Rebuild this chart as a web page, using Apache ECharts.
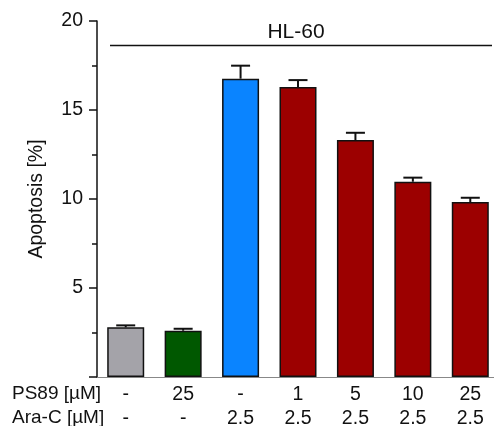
<!DOCTYPE html>
<html>
<head>
<meta charset="utf-8">
<script src="https://cdn.jsdelivr.net/npm/echarts@6/dist/echarts.min.js"></script>
<style>
  html, body { margin: 0; padding: 0; background: #fff; }
  #chart { width: 494px; height: 426px; }
</style>
</head>
<body>
<div id="chart"></div>
<script>
const ps89 = ['-', '25', '-', '1', '5', '10', '25'];
const araC = ['-', '-', '2.5', '2.5', '2.5', '2.5', '2.5'];
const apoptosis = [2.79, 2.6, 16.76, 16.29, 13.31, 10.97, 9.83];
const errUpper = [2.9, 2.71, 17.49, 16.68, 13.72, 11.2, 10.07];
const barColors = ['#a4a3a9', '#005800', '#0a84ff', '#9c0000', '#9c0000', '#9c0000', '#9c0000'];
const yTicks = [5, 10, 15, 20];

const FONT = 'Liberation Sans, Arial, Helvetica, sans-serif';
const cats = ps89.map((p, i) => p + '\n' + araC[i]);

const chart = echarts.init(document.getElementById('chart'));
chart.setOption({
  animation: false,
  textStyle: { fontFamily: FONT },
  grid: { left: 97, top: 21, width: 402, height: 356, outerBoundsMode: 'none', containLabel: false },
  xAxis: {
    type: 'category',
    data: cats,
    axisTick: { show: false },
    axisLine: { lineStyle: { color: '#888', width: 1 } },
    axisLabel: { color: '#111', fontSize: 19.5, lineHeight: 24, margin: 6, interval: 0 }
  },
  yAxis: {
    type: 'value',
    min: 0, max: 20, interval: 5,
    name: 'Apoptosis [%]',
    nameLocation: 'middle',
    nameGap: 50,
    nameTextStyle: { color: '#111', fontSize: 19.5 },
    axisLine: { show: true, lineStyle: { color: '#111', width: 1.5 } },
    axisTick: { show: true, length: 8, lineStyle: { color: '#111', width: 1.5 } },
    minorTick: { show: true, splitNumber: 2, length: 5, lineStyle: { color: '#111', width: 1.5 } },
    splitLine: { show: false },
    axisLabel: {
      color: '#111', fontSize: 19.5, margin: 14,
      formatter: v => yTicks.includes(v) ? String(v) : ''
    }
  },
  graphic: [
    { type: 'text', x: 12, y: 394, style: { text: 'PS89 [µM]', fontSize: 19, fontFamily: FONT, fill: '#111', textVerticalAlign: 'middle' } },
    { type: 'text', x: 12, y: 418, style: { text: 'Ara-C [µM]', fontSize: 19, fontFamily: FONT, fill: '#111', textVerticalAlign: 'middle' } },
    { type: 'text', x: 296, y: 32, style: { text: 'HL-60', fontSize: 21, fontFamily: FONT, fill: '#111', textAlign: 'center', textVerticalAlign: 'middle' } },
    { type: 'line', shape: { x1: 110, y1: 45.5, x2: 492, y2: 45.5 }, style: { stroke: '#111', lineWidth: 1.5 } }
  ],
  series: [
    {
      type: 'bar',
      barWidth: 37,
      data: apoptosis.map((v, i) => ({
        value: v,
        itemStyle: { color: barColors[i], borderColor: '#111', borderWidth: 1.5 }
      }))
    },
    {
      type: 'custom',
      z: 5,
      data: apoptosis.map((v, i) => [i, v, errUpper[i]]),
      renderItem: (params, api) => {
        const base = api.coord([api.value(0), api.value(1)]);
        const top = api.coord([api.value(0), api.value(2)]);
        const half = 9.5;
        const style = { stroke: '#111', lineWidth: 2 };
        return {
          type: 'group',
          children: [
            { type: 'line', shape: { x1: base[0], y1: base[1], x2: top[0], y2: top[1] }, style },
            { type: 'line', shape: { x1: top[0] - half, y1: top[1], x2: top[0] + half, y2: top[1] }, style }
          ]
        };
      }
    }
  ]
});
</script>
</body>
</html>
